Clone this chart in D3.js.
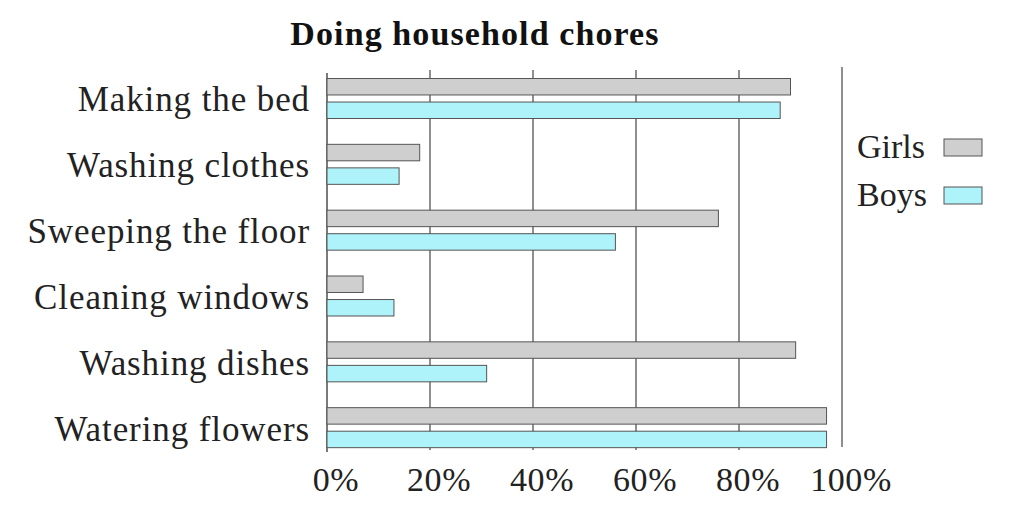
<!DOCTYPE html>
<html><head><meta charset="utf-8">
<script src="https://cdn.jsdelivr.net/npm/d3@7"></script>
<style>html,body{margin:0;padding:0;background:#fff;}svg{display:block;}</style>
</head><body>
<svg id="chart" width="1029" height="512"></svg>
<script>
const title = "Doing household chores";
const categories = ["Making the bed","Washing clothes","Sweeping the floor","Cleaning windows","Washing dishes","Watering flowers"];
const seriesNames = ["Girls","Boys"];
const girls = [90, 18, 76, 7, 91, 97];
const boys = [88, 14, 56, 13, 31, 97];
const tickValues = [0, 20, 40, 60, 80, 100];
const tickLabels = ["0%","20%","40%","60%","80%","100%"];
const colors = {Girls:"#cfcfcf", Boys:"#aef2fa"};

const svg = d3.select("#chart");
const font = "'Liberation Serif','Times New Roman',serif";

const x = d3.scaleLinear().domain([0,100]).range([327,842]);
const y = d3.scaleBand().domain(categories).range([65.5,460.5]).paddingInner(0);
const y1 = d3.scaleBand().domain(seriesNames).range([13,53]).paddingInner(0.3);

// gridlines
svg.append("g").selectAll("line").data([20,40,60,80]).join("line")
  .attr("x1",d=>x(d)).attr("x2",d=>x(d)).attr("y1",70).attr("y2",450)
  .attr("stroke","#444").attr("stroke-width",1.2);
// right line at 100%
svg.append("line").attr("x1",x(100)).attr("x2",x(100)).attr("y1",67).attr("y2",447)
  .attr("stroke","#444").attr("stroke-width",1.2);
// left axis
svg.append("line").attr("x1",x(0)).attr("x2",x(0)).attr("y1",73).attr("y2",452)
  .attr("stroke","#333").attr("stroke-width",1.3);

const data = categories.map((c,i)=>({cat:c, vals:[{s:"Girls",v:girls[i]},{s:"Boys",v:boys[i]}]}));
const groups = svg.append("g").selectAll("g").data(data).join("g")
  .attr("transform",d=>`translate(0,${y(d.cat)})`);
groups.selectAll("rect").data(d=>d.vals).join("rect")
  .attr("x",x(0)).attr("y",d=>y1(d.s)).attr("width",d=>x(d.v)-x(0)).attr("height",y1.bandwidth())
  .attr("fill",d=>colors[d.s]).attr("stroke","#555").attr("stroke-width",1);

// category labels
svg.append("g").selectAll("text").data(categories).join("text")
  .attr("x",310).attr("y",d=>y(d)+y.bandwidth()/2+13)
  .attr("text-anchor","end").attr("font-family",font).attr("font-size",35)
  .attr("letter-spacing",0.9).attr("fill","#222")
  .text(d=>d);

// tick labels
svg.append("g").selectAll("text").data(tickValues).join("text")
  .attr("x",d=>x(d)+9).attr("y",491)
  .attr("text-anchor","middle").attr("font-family",font).attr("font-size",34)
  .attr("letter-spacing",0.6).attr("fill","#222")
  .text((d,i)=>tickLabels[i]);

// title
svg.append("text").attr("x",475).attr("y",45).attr("text-anchor","middle")
  .attr("font-family",font).attr("font-weight","bold").attr("font-size",34)
  .attr("letter-spacing",1.1).attr("fill","#111")
  .text(title);

// legend
const leg = svg.append("g").selectAll("g").data(seriesNames).join("g")
  .attr("transform",(d,i)=>`translate(0,${i*48})`);
leg.append("text").attr("x",857).attr("y",158).attr("font-family",font).attr("font-size",34).attr("fill","#222").text(d=>d);
leg.append("rect").attr("x",944).attr("y",139).attr("width",38).attr("height",17)
  .attr("fill",d=>colors[d]).attr("stroke","#555").attr("stroke-width",1);
</script>
</body></html>
